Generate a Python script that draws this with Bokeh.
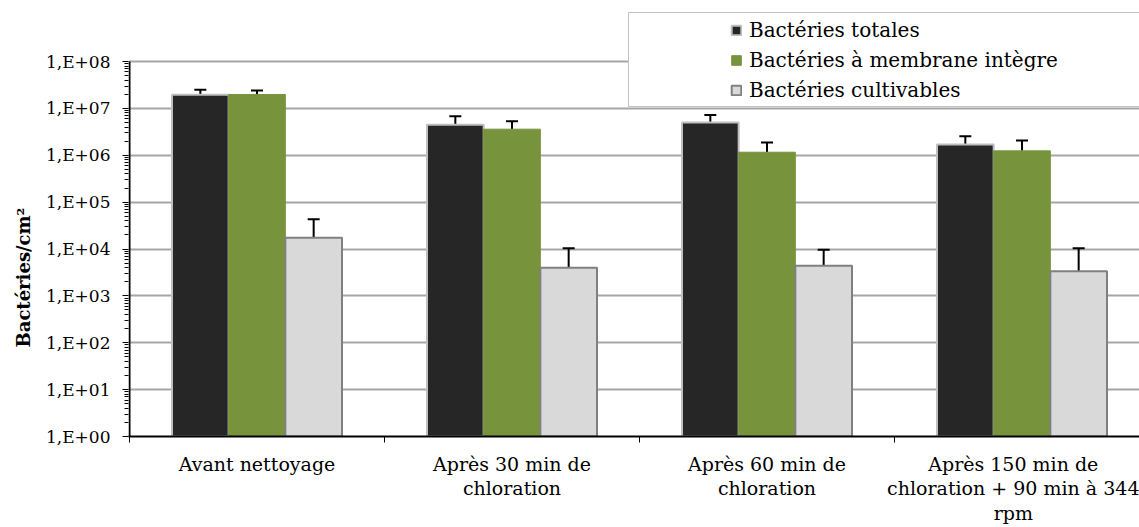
import numpy as np
from bokeh.plotting import figure
from bokeh.models import (Range1d, LinearAxis, FixedTicker, ColumnDataSource,
                          Whisker, TeeHead, Legend, LegendItem, Title)
from bokeh.transform import dodge
from bokeh.embed import file_html
from bokeh.resources import INLINE

# ---------------- data ----------------
categories = ["Avant nettoyage",
              "Après 30 min de\nchloration",
              "Après 60 min de\nchloration",
              "Après 150 min de\nchloration + 90 min à 344\nrpm"]

series_names = ["Bactéries totales", "Bactéries à membrane intègre", "Bactéries cultivables"]

totales = [1.95e7, 4.5e6, 5.0e6, 1.7e6]
totales_err = [5.4e6, 2.3e6, 2.25e6, 0.85e6]
integre = [1.98e7, 3.6e6, 1.16e6, 1.24e6]
integre_err = [4.2e6, 1.7e6, 0.71e6, 0.83e6]
cultivables = [1.73e4, 3.97e3, 4.37e3, 3.36e3]
cultivables_err = [2.57e4, 6.4e3, 5.3e3, 7.0e3]

y_ticks = [1.0, 10.0, 100.0, 1e3, 1e4, 1e5, 1e6, 1e7, 1e8]
y_tick_labels = ["1,E+00", "1,E+01", "1,E+02", "1,E+03", "1,E+04",
                 "1,E+05", "1,E+06", "1,E+07", "1,E+08"]
y_label = "Bactéries/cm²"

# ---------------- styling / layout ----------------
FONT = "DejaVu Serif"
C_TOT = "#262626"
C_INT = "#77933C"
C_CUL = "#D9D9D9"
GRID = "#A6A6A6"

W, H = 1139, 527
LEFT, BOTTOM = 128, 91
PX_UNIT = 255.0          # pixels per category
PX_DECADE = 46.875       # pixels per decade
TOP_GAP = 61             # pixels above the 1E+08 line

n = len(categories)
centers = [float(i) + 0.5 for i in range(n)]
bounds = [float(i) for i in range(n + 1)]
bw = 2.0 / 9.0

x_start = -1.0 / PX_UNIT
x_end = x_start + (W - LEFT) / PX_UNIT
y_top = y_ticks[-1] * 10 ** (TOP_GAP / PX_DECADE)

src = ColumnDataSource(dict(
    x=centers,
    totales=totales, totales_hi=list(np.array(totales) + np.array(totales_err)),
    integre=integre, integre_hi=list(np.array(integre) + np.array(integre_err)),
    cultivables=cultivables, cultivables_hi=list(np.array(cultivables) + np.array(cultivables_err)),
))

p = figure(width=W, height=H,
           x_range=Range1d(x_start, x_end), y_range=Range1d(y_ticks[0], y_top),
           y_axis_type="log", x_axis_type=None,
           output_backend="svg", toolbar_location=None,
           min_border_left=LEFT, min_border_right=0,
           min_border_top=0, min_border_bottom=BOTTOM)
p.outline_line_color = None
p.background_fill_color = "white"

# y axis
minor = [m * 10.0 ** d for d in range(8) for m in range(2, 10)]
yax = p.yaxis[0]
yax.ticker = FixedTicker(ticks=y_ticks, minor_ticks=minor)
yax.major_label_overrides = dict(zip(y_ticks, y_tick_labels))
yax.major_label_text_font = FONT
yax.major_label_text_font_size = "17px"
yax.major_label_text_color = "black"
yax.major_label_standoff = 12
yax.major_tick_out = 6
yax.major_tick_in = 0
yax.minor_tick_out = 4
yax.minor_tick_in = 0
yax.major_tick_line_color = "black"
yax.minor_tick_line_color = "black"
yax.axis_line_color = None

p.ygrid.grid_line_color = GRID
p.ygrid.grid_line_width = 2

p.add_layout(Title(text=y_label, align="left", offset=89, text_font=FONT,
                   text_font_size="18px", text_font_style="bold",
                   text_color="black", standoff=18), "left")

# bars
r1 = p.vbar(x=dodge("x", -bw), top="totales", bottom=y_ticks[0], width=bw, source=src,
            fill_color=C_TOT, line_color="#BFBFBF", line_width=2)
r2 = p.vbar(x=dodge("x", 0.0), top="integre", bottom=y_ticks[0], width=bw, source=src,
            fill_color=C_INT, line_color=C_INT, line_width=1)
r3 = p.vbar(x=dodge("x", bw), top="cultivables", bottom=y_ticks[0], width=bw, source=src,
            fill_color=C_CUL, line_color="#808080", line_width=2)

# y axis line (stops at the top tick)
p.segment(x0=[0.0], y0=[y_ticks[0]], x1=[0.0], y1=[y_ticks[-1]],
          line_color="black", line_width=2)

for off, lo, hi in [(-bw, "totales", "totales_hi"), (0.0, "integre", "integre_hi"),
                    (bw, "cultivables", "cultivables_hi")]:
    w = Whisker(source=src, base=dodge("x", off), lower=lo, upper=hi,
                dimension="height", line_color="black", line_width=2,
                upper_head=TeeHead(size=12, line_width=2, line_color="black"),
                lower_head=None)
    p.add_layout(w)

# x axis
ax1 = LinearAxis(ticker=FixedTicker(ticks=centers, minor_ticks=bounds),
                 major_label_overrides=dict(zip(centers, categories)),
                 major_tick_out=0, major_tick_in=0, minor_tick_out=6, minor_tick_in=0,
                 minor_tick_line_color="black", axis_line_color="black", axis_line_width=2,
                 major_label_standoff=10, major_label_text_font=FONT,
                 major_label_text_font_size="19px", major_label_text_color="black",
                 major_label_text_line_height=1.13)
p.add_layout(ax1, "below")

# legend box (background) and legend entries
dummy = p.scatter(x=[0.1], y=[2.0], size=1, fill_alpha=0, line_alpha=0)
legA = Legend(items=[LegendItem(label=" ", renderers=[dummy])],
              location=(500, 329), padding=0, spacing=0, margin=0,
              label_width=700, label_height=93, glyph_width=1, glyph_height=1,
              label_standoff=0, label_text_font_size="2px",
              border_line_color="#868686", border_line_width=1,
              background_fill_color="white", background_fill_alpha=1)
legB = Legend(items=[LegendItem(label=series_names[0], renderers=[r1]),
                     LegendItem(label=series_names[1], renderers=[r2]),
                     LegendItem(label=series_names[2], renderers=[r3])],
              location=(602, 331), padding=0, spacing=0, margin=0,
              label_height=30, glyph_width=12, glyph_height=12, label_standoff=7,
              label_text_font=FONT, label_text_font_size="20px", label_text_color="black",
              border_line_color=None, background_fill_alpha=0)
p.add_layout(legA, "center")
p.add_layout(legB, "center")

open("out.html", "w").write(file_html(p, INLINE))
